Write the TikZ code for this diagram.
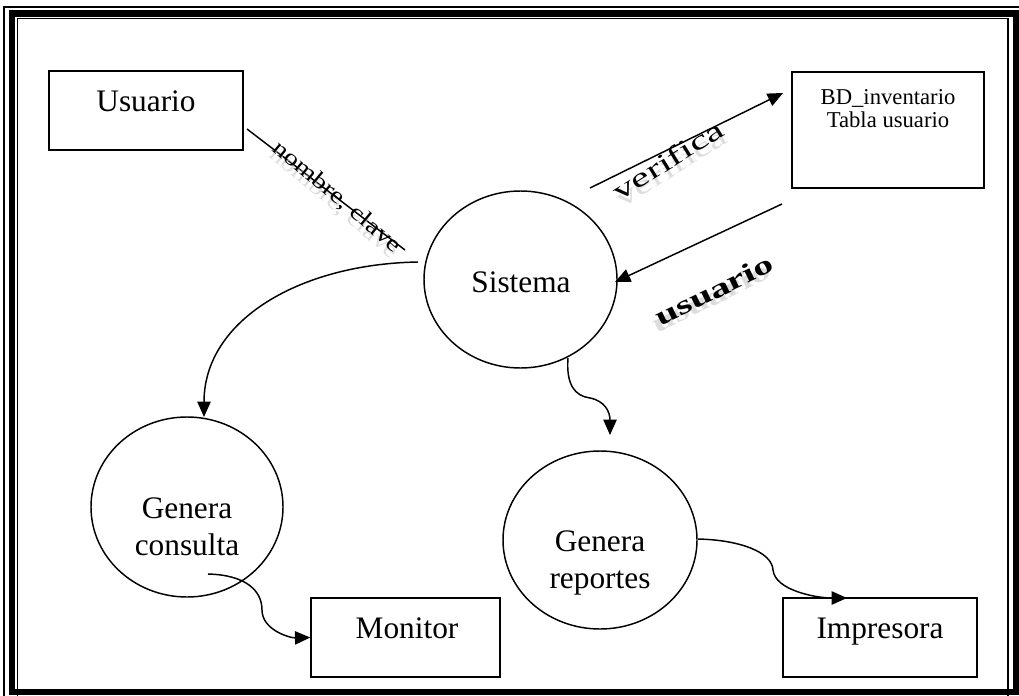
\documentclass[tikz,border=0pt]{standalone}
\usepackage{fontspec}
\setmainfont{Liberation Serif}
\usetikzlibrary{shapes.geometric,arrows.meta}

\begin{document}
\begin{tikzpicture}[x=0.75pt,y=-0.75pt,
  line width=1.1pt,
  box/.style={draw,rectangle,inner sep=0pt},
  proc/.style={draw,ellipse,inner sep=0pt},
  big/.style={font=\fontsize{23.5pt}{28pt}\selectfont,inner sep=0pt,anchor=base},
  small/.style={font=\fontsize{17pt}{20pt}\selectfont,inner sep=0pt,anchor=base},
  flow/.style={-{Triangle[length=11.5pt,width=10pt]}},
  wa/.style={font=\fontsize{17pt}{18pt}\selectfont,inner sep=0pt},
  wav/.style={font=\fontsize{20pt}{22pt}\selectfont,inner sep=0pt},
  wab/.style={font=\bfseries\fontsize{20pt}{22pt}\selectfont,inner sep=0pt},
  haze/.style={text=black!22,opacity=0.6},
  ]
\useasboundingbox (0,0) rectangle (1019,695);
\clip (0,0) rectangle (1019,695);

% page frame: thin - thick - thin
\draw[line width=0.8pt] (4,7) rectangle (1040,720);
\draw[line width=4.8pt] (12,13.5) rectangle (1016,692);
\draw[line width=0.8pt] (17.5,18.5) rectangle (1008,705);

% external entities and data store
\node[box,minimum width=145.5pt,minimum height=59.25pt] (usuario) at (146,110.5) {};
\node[big] (usuariot) at (146,112) {Usuario};
\node[box,minimum width=144pt,minimum height=87pt] (bd) at (888,130) {};
\node[small] (bdt1) at (888,105) {BD\_inventario};
\node[small] (bdt2) at (888,128) {Tabla usuario};
\node[box,minimum width=141.75pt,minimum height=59.25pt] (monitor) at (405.5,637.5) {};
\node[big] (monitort) at (407,638) {Monitor};
\node[box,minimum width=145.5pt,minimum height=59.25pt] (impresora) at (880,637.5) {};
\node[big] (impresorat) at (880,638) {Impresora};

% processes
\node[proc,minimum width=144.75pt,minimum height=132.75pt] (sistema) at (520.5,279.5) {};
\node[big] (sistemat) at (521,292) {Sistema};
\node[proc,minimum width=144pt,minimum height=135pt] (consulta) at (187,507) {};
\node[big] (consultat1) at (187,518) {Genera};
\node[big] (consultat2) at (187,555) {consulta};
\node[proc,minimum width=145.5pt,minimum height=133.5pt] (reportes) at (600,540) {};
\node[big] (reportest1) at (600,551) {Genera};
\node[big] (reportest2) at (600,588) {reportes};

% free ends of the flows
\coordinate (c1s) at (247,129);
\coordinate (c1e) at (405,250);
\coordinate (c2s) at (590,188);
\coordinate (c2e) at (783,93);
\coordinate (c3s) at (782,204);
\coordinate (c3e) at (615,282);
\coordinate (c4s) at (418,262);
\coordinate (c4e) at (204,417);
\coordinate (c5s) at (568,358);
\coordinate (c5e) at (610,435);
\coordinate (c6s) at (208,574);
\coordinate (c7s) at (698,539);
\coordinate (c7e) at (847,598);

% flows
\draw (c1s) -- (c1e);
\draw[flow] (c2s) -- (c2e);
\draw[flow] (c3s) -- (c3e);
\draw[flow] (c4s) .. controls (300,264) and (204,320) .. (c4e);
\draw[flow] (c5s) .. controls (566,385) and (575,396) .. (590,398)
            .. controls (605,401) and (610,412) .. (c5e);
\draw[flow] (c6s) .. controls (245,575) and (262,590) .. (262,610)
            .. controls (262,630) and (290,638) .. (monitor.west);
\draw[flow] (c7s) .. controls (740,540) and (772,552) .. (773,570)
            .. controls (775,590) and (815,598) .. (c7e);

% flow labels with soft drop shadows
\node[wa,haze,rotate=-40,xscale=1.25] (nombresh) at (334,203) {nombre, clave};
\node[wav,haze,rotate=32,xscale=1.55] (verificash) at (671,167) {verifica};
\node[wab,haze,rotate=26,xscale=1.5] (usuariosh) at (711,297) {usuario};
\node[wa,rotate=-40,xscale=1.25] (nombre) at (337,197) {nombre, clave};
\node[wav,rotate=32,xscale=1.55] (verifica) at (668,160) {verifica};
\node[wab,rotate=26,xscale=1.5] (usuariol) at (714,290) {usuario};
\end{tikzpicture}
\end{document}
